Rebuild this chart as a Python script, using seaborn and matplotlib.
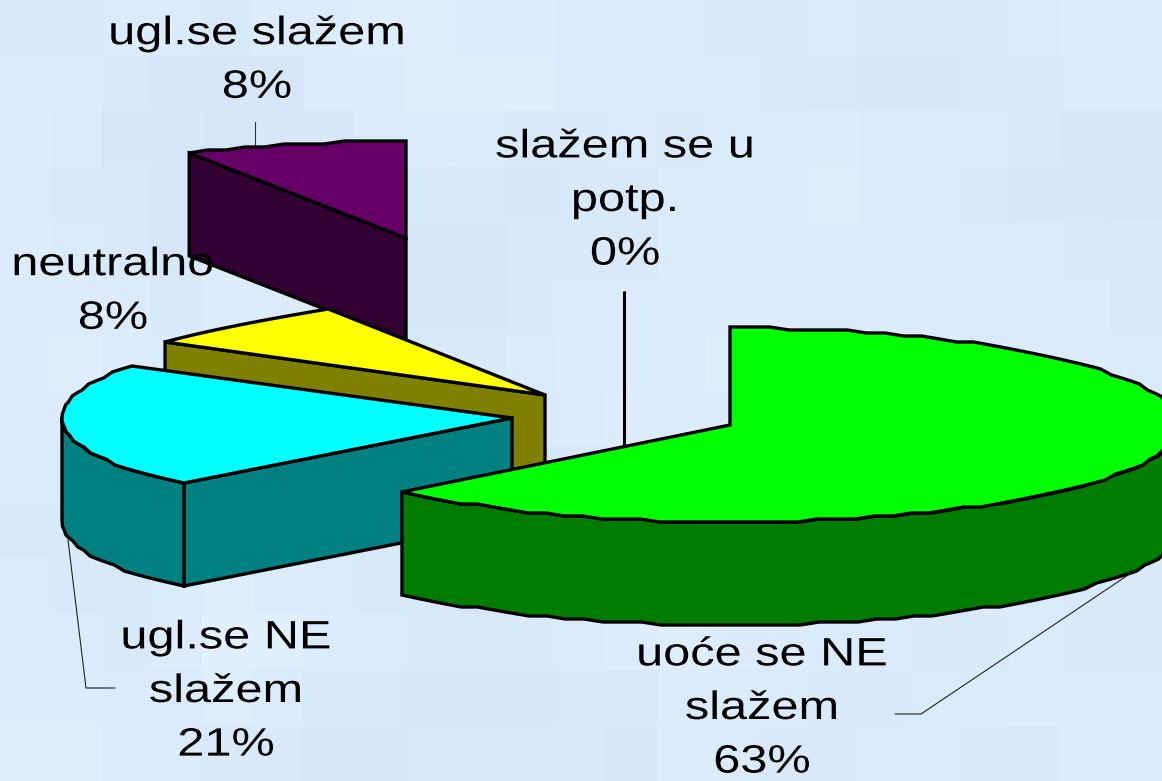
import numpy as np
import seaborn as sns
import matplotlib.pyplot as plt
import matplotlib.patheffects as pe
from matplotlib.colors import LinearSegmentedColormap
from matplotlib.transforms import Affine2D

# slices, clockwise from the top
categories = ['uoće se NE\nslažem', 'ugl.se NE\nslažem', 'neutralno', 'ugl.se slažem', 'slažem se u\npotp.']
values = [63, 21, 8, 8, 0]
top_colors = ['#00ff00', '#00ffff', '#ffff00', '#660066', '#ffffff']
wall_colors = ['#007c00', '#008080', '#808000', '#330033', '#ffffff']

# exploded slice tips and label anchors, in pixels
tips = [(730, 425), (512, 418), (545, 395), (406, 238), (624, 445)]
label_pos = [(762, 708), (226, 691), (113, 291), (257, 60), (625, 200)]
RX, RY, DEPTH = 450, 97, 103

# blotchy backdrop, 0 darker .. 9 lighter
backdrop = [
    '55665778877666556555677',
    '66544466899776655445566',
    '76443447765565667666544',
    '75545585554556778665443',
    '76546664445556776666655',
    '77657765445667776666665',
    '78766544556767887665666',
    '77764455566677766566776',
    '66655566664456677776665',
    '55666655443556678887776',
    '65568765544667877776655',
    '66579966555678776655655',
    '77668655444556665566766',
    '88765544555546655665577',
]

sns.set_theme(style='white')
plt.rcParams['font.family'] = ['Liberation Sans', 'DejaVu Sans']


class StretchX(pe.AbstractPathEffect):
    # the labels are Arial pulled wide, so scale each line around its centre
    def __init__(self, cx, k):
        super().__init__()
        self.cx = cx
        self.k = k

    def draw_path(self, renderer, gc, tpath, affine, rgbFace=None):
        st = affine + Affine2D().translate(-self.cx, 0).scale(self.k, 1).translate(self.cx, 0)
        renderer.draw_path(gc, tpath, st, rgbFace)


def arc(tip, a0, a1):
    # stepped outline like the low-res original
    n = max(2, int(abs(a1 - a0) / 2.5) + 1)
    th = np.radians(np.linspace(a0, a1, n))
    x = tip[0] + RX * np.cos(th)
    y = tip[1] - RY * np.sin(th)
    return x, np.round(y / 3) * 3


fig, ax = plt.subplots(figsize=(11.62, 7.81), dpi=100)
fig.subplots_adjust(0, 0, 1, 1)
ax.set_xlim(0, 1162)
ax.set_ylim(781, 0)
ax.axis('off')

cmap = LinearSegmentedColormap.from_list('bg', ['#cee1f3', '#e0f0ff'])
grid = np.array([[int(c) for c in row] for row in backdrop])
ax.imshow(grid, cmap=cmap, vmin=0, vmax=9, extent=(0, 1162, 781, 0), aspect='auto',
          interpolation='nearest', zorder=0)

# leader lines
ax.plot([624, 624], [292, 445], color='black', lw=2.2, zorder=1)
ax.plot([255, 255], [122, 145], color='#333333', lw=0.8, zorder=1)
ax.plot([68, 86, 115], [540, 688, 688], color='#222222', lw=0.8, zorder=6)
ax.plot([895, 921, 1143], [714, 714, 565], color='#222222', lw=0.8, zorder=6)

# angles run clockwise from 12 o'clock
edges = 90 - 3.6 * np.cumsum([0] + values)
LW = 2.4

# back slices first so the front ones sit on top
for i in [3, 2, 1, 0]:
    a0, a1 = edges[i], edges[i + 1]
    tip = tips[i]
    xs, ys = arc(tip, a0, a1)
    z = 2 + (3 - i)

    # radial wall on the leading edge
    if i in (1, 2, 3):
        wx = [xs[0], tip[0], tip[0], xs[0]]
        wy = [ys[0], tip[1], tip[1] + DEPTH, ys[0] + DEPTH]
        ax.fill(wx, wy, facecolor=wall_colors[i], edgecolor='black', lw=LW, zorder=z)

    # outer rim where it faces the viewer
    if i == 0:
        rx, ry = arc(tip, a1, 0)
    elif i == 1:
        rx, ry = arc(tip, a0, -180)
    if i in (0, 1):
        ax.fill(np.r_[rx, rx[::-1]], np.r_[ry, ry[::-1] + DEPTH],
                facecolor=wall_colors[i], edgecolor='black', lw=LW, zorder=z)

    ax.fill(np.r_[tip[0], xs], np.r_[tip[1], ys], facecolor=top_colors[i],
            edgecolor='black', lw=LW, zorder=z)

# labels
for name, v, (lx, ly) in zip(categories, values, label_pos):
    ax.text(lx, ly, f'{name}\n{v}%', ha='center', va='center', fontsize=28.5, color='black',
            linespacing=1.52, zorder=7, multialignment='center',
            path_effects=[StretchX(lx, 1.23)])

plt.savefig('out.png', dpi=100)
